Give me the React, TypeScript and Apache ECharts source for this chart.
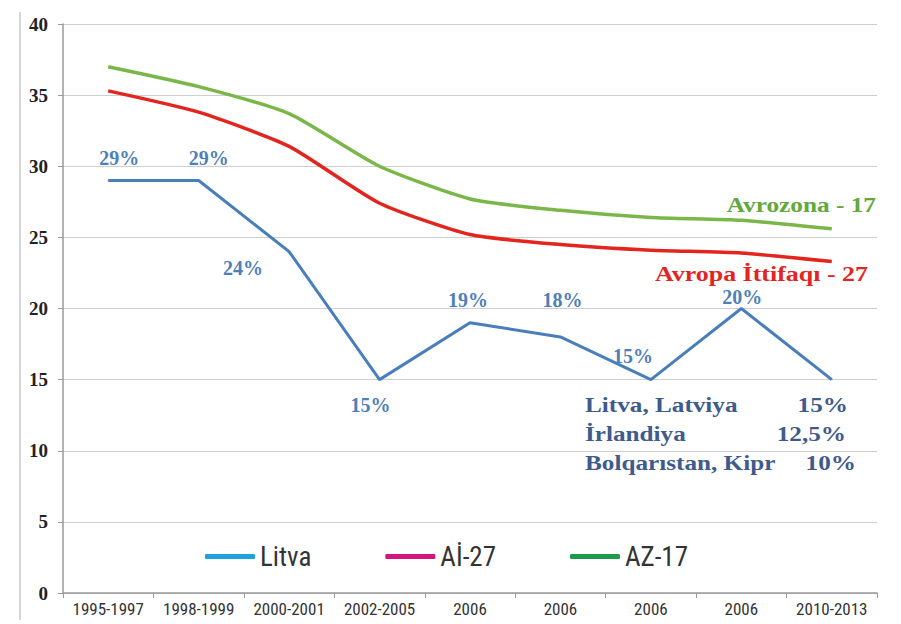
import React, { useEffect, useRef } from "react";
import * as echarts from "echarts";

const categories = ["1995-1997", "1998-1999", "2000-2001", "2002-2005", "2006", "2006", "2006", "2006", "2010-2013"];
const litva = [29, 29, 24, 15, 19, 18, 15, 20, 15];
const ai27 = [35.3, 33.8, 31.4, 27.4, 25.2, 24.5, 24.1, 23.9, 23.3];
const az17 = [37.0, 35.6, 33.7, 30.0, 27.7, 26.9, 26.4, 26.2, 25.6];
const litvaLabels = ["29%", "29%", "24%", "15%", "19%", "18%", "15%", "20%", ""];
const yTicks = { min: 0, max: 40, interval: 5 };
const seriesNames = ["Litva", "Aİ-27", "AZ-17"];
const noteRows = [
  ["Litva, Latviya", "15%"],
  ["İrlandiya", "12,5%"],
  ["Bolqarıstan, Kipr", "10%"],
];
const lineNames = ["Avrozona - 17", "Avropa İttifaqı - 27"];

const labelOffsets: number[][] = [
  [11, -22], [10, -22], [-46, 16], [-9, 25], [-2, -23], [2, -37], [-18, -24], [1, -12], [0, 0],
];

const SERIF = "'Liberation Serif', 'Times New Roman', serif";
const NARROW = "'Roboto Condensed', 'Liberation Sans Narrow', 'DejaVu Sans Condensed', sans-serif";

export default function App() {
  const ref = useRef<HTMLDivElement>(null);
  useEffect(() => {
    document.body.style.margin = "0";
    const chart = echarts.init(ref.current!, undefined, { renderer: "svg" });
    const blue = "#4a7ebb";
    const noteColor = "#3f5b8c";
    const graphics: any[] = [
      { type: "line", shape: { x1: 20, y1: 12, x2: 20, y2: 620 }, style: { stroke: "#c8c8c8", lineWidth: 1.5 } },
      {
        type: "text", x: 876, y: 205, scaleX: 1.15,
        style: { text: lineNames[0], fill: "#62a83e", font: `bold 22px ${SERIF}`, align: "right", verticalAlign: "middle" },
      },
      {
        type: "text", x: 868, y: 274, scaleX: 1.18,
        style: { text: lineNames[1], fill: "#e2251f", font: `bold 22px ${SERIF}`, align: "right", verticalAlign: "middle" },
      },
    ];
    const rowYs = [405, 434, 463];
    const rightXs = [848, 846, 856];
    noteRows.forEach((r, i) => {
      graphics.push({
        type: "text", x: 585, y: rowYs[i], scaleX: 1.2,
        style: { text: r[0], fill: noteColor, font: `bold 21px ${SERIF}`, align: "left", verticalAlign: "middle" },
      });
      graphics.push({
        type: "text", x: rightXs[i], y: rowYs[i], scaleX: 1.2,
        style: { text: r[1], fill: noteColor, font: `bold 21px ${SERIF}`, align: "right", verticalAlign: "middle" },
      });
    });

    chart.setOption({
      animation: false,
      backgroundColor: "#ffffff",
      grid: { left: 63, right: 24, top: 24, bottom: 31, containLabel: false },
      legend: {
        left: 200,
        top: 538,
        itemWidth: 50,
        itemHeight: 5,
        itemGap: 74,
        textStyle: { fontFamily: NARROW, fontSize: 27, color: "#333" },
        data: [
          { name: seriesNames[0], icon: "roundRect", itemStyle: { color: "#1ea2dc" } },
          { name: seriesNames[1], icon: "roundRect", itemStyle: { color: "#d4157b" } },
          { name: seriesNames[2], icon: "roundRect", itemStyle: { color: "#1e9a4b" } },
        ],
      },
      xAxis: {
        type: "category",
        data: categories,
        boundaryGap: true,
        axisLine: { lineStyle: { color: "#999", width: 1.5 } },
        axisTick: { show: true, alignWithLabel: false, length: 5, lineStyle: { color: "#999" } },
        axisLabel: { fontFamily: NARROW, fontSize: 17, color: "#333", margin: 7, interval: 0 },
      },
      yAxis: {
        type: "value",
        min: yTicks.min,
        max: yTicks.max,
        interval: yTicks.interval,
        axisLine: { show: true, lineStyle: { color: "#999", width: 1.5 } },
        axisTick: { show: true, length: 5, lineStyle: { color: "#999" } },
        axisLabel: { fontFamily: SERIF, fontWeight: "bold", fontSize: 19, color: "#222", margin: 15 },
        splitLine: { lineStyle: { color: "#cfcfcf", width: 1 } },
      },
      series: [
        {
          name: seriesNames[0],
          type: "line",
          data: litva.map((v, i) => ({
            value: v,
            label: {
              show: litvaLabels[i] !== "",
              formatter: litvaLabels[i],
              position: "inside",
              offset: labelOffsets[i],
            },
          })),
          symbol: "circle",
          symbolSize: 1,
          itemStyle: { color: blue },
          lineStyle: { color: blue, width: 3 },
          label: { fontFamily: SERIF, fontWeight: "bold", fontSize: 20, color: "#4f7fb8" },
          z: 3,
        },
        {
          name: seriesNames[1],
          type: "line",
          data: ai27,
          symbol: "none",
          smooth: 0.2,
          itemStyle: { color: "#e2251f" },
          lineStyle: { color: "#e2251f", width: 3.5 },
          z: 2,
        },
        {
          name: seriesNames[2],
          type: "line",
          data: az17,
          symbol: "none",
          smooth: 0.2,
          itemStyle: { color: "#7ab648" },
          lineStyle: { color: "#7ab648", width: 3.5 },
          z: 2,
        },
      ],
      graphic: graphics,
    });
    return () => chart.dispose();
  }, []);
  return <div ref={ref} style={{ width: 901, height: 624 }} />;
}
